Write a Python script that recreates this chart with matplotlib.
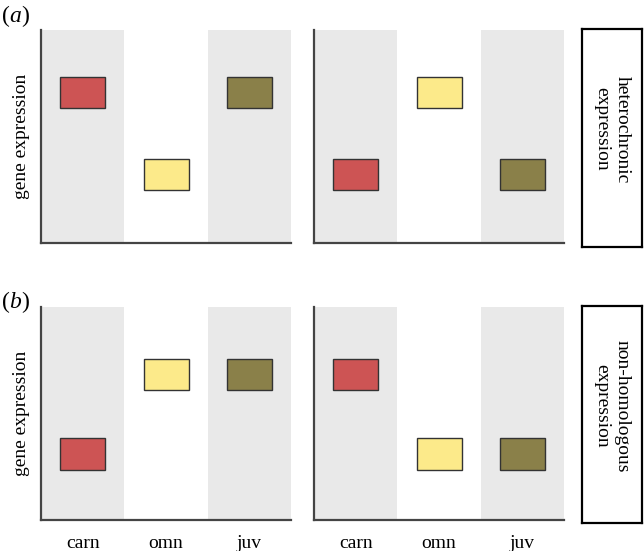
import matplotlib.pyplot as plt

plt.rcParams['font.family'] = ['Liberation Serif', 'DejaVu Serif']

# categories and colours
categories = ['carn', 'omn', 'juv']
box_colors = ['#cd5454', '#fcea8a', '#8a8049']

# expression levels (centre of each box, axis runs 0..1)
levels_a_left = [0.705, 0.32, 0.705]
levels_a_right = [0.32, 0.705, 0.32]
levels_b_left = [0.31, 0.685, 0.685]
levels_b_right = [0.685, 0.31, 0.31]

row_letters = ['a', 'b']
side_labels = ['heterochronic\nexpression', 'non-homologous\nexpression']

box_h = 0.146
box_w = 0.54

fig = plt.figure(figsize=(6.44, 5.51), dpi=100)
W, H = 644, 551


def r(x0, y0, x1, y1):
    # pixel box -> figure fraction rect
    return [x0 / W, 1 - y1 / H, (x1 - x0) / W, (y1 - y0) / H]


def draw_panel(rect, levels, ylabel=False, xlabels=False):
    ax = fig.add_axes(rect)
    x = list(range(len(categories)))
    for i in x:
        if i % 2 == 0:
            ax.axvspan(i - 0.5, i + 0.5, color='#e9e9e9', lw=0, zorder=0)
    bottoms = [v - box_h / 2 for v in levels]
    ax.bar(x, [box_h] * len(levels), bottom=bottoms, width=box_w,
           color=box_colors, edgecolor='#333333', linewidth=1.0, zorder=2)
    ax.set_xlim(-0.5, 2.5)
    ax.set_ylim(0, 1)
    for s in ['top', 'right']:
        ax.spines[s].set_visible(False)
    for s in ['left', 'bottom']:
        ax.spines[s].set_color('#444444')
        ax.spines[s].set_linewidth(1.6)
    ax.set_yticks([])
    if xlabels:
        ax.set_xticks(x)
        ax.set_xticklabels(categories, fontsize=14)
        ax.tick_params(axis='x', length=0, pad=11)
    else:
        ax.set_xticks([])
    if ylabel:
        ax.set_ylabel('gene expression', fontsize=14, labelpad=8)
    return ax


def draw_side(rect, text):
    ax = fig.add_axes(rect)
    ax.set_xticks([])
    ax.set_yticks([])
    for s in ax.spines.values():
        s.set_linewidth(1.6)
        s.set_color('black')
    ax.text(0.5, 0.54, text, rotation=-90, ha='center', va='center',
            multialignment='center', fontsize=14, linespacing=1.25,
            transform=ax.transAxes)


draw_panel(r(41, 30, 291, 243), levels_a_left, ylabel=True)
draw_panel(r(314, 30, 564, 243), levels_a_right)
draw_side(r(582, 29, 642, 247), side_labels[0])

draw_panel(r(41, 307, 291, 520), levels_b_left, ylabel=True, xlabels=True)
draw_panel(r(314, 307, 564, 520), levels_b_right, xlabels=True)
draw_side(r(582, 306, 642, 523), side_labels[1])

# panel letters: upright brackets, italic letter
for letter, y in zip(row_letters, [16, 302]):
    fig.text(2 / W, 1 - y / H, '(', fontsize=17, va='center', ha='left')
    fig.text(9 / W, 1 - y / H, letter, fontsize=17, va='center', ha='left',
             style='italic')
    fig.text(21 / W, 1 - y / H, ')', fontsize=17, va='center', ha='left')

fig.savefig('out.png', dpi=100)
